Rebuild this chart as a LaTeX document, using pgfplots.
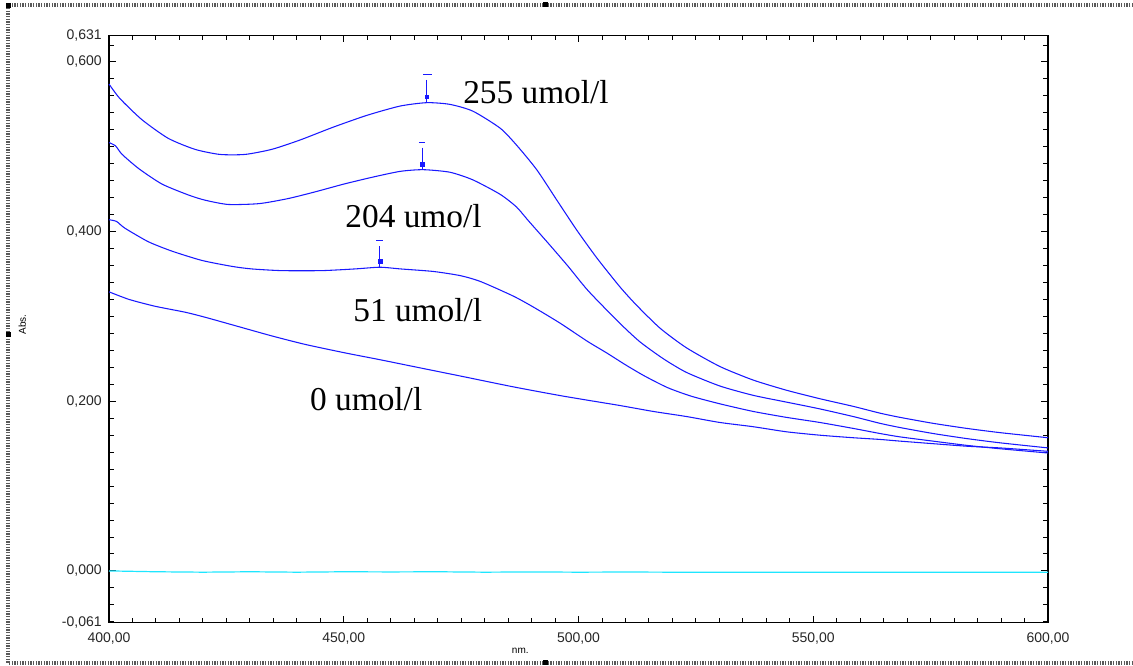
\documentclass[border=0pt]{standalone}
\usepackage{fontspec}
\setmainfont{Liberation Serif}
\setsansfont{Liberation Sans}
\usepackage{pgfplots}
\pgfplotsset{compat=1.18}
\definecolor{specblue}{RGB}{25,25,255}
\definecolor{basecyan}{RGB}{30,230,255}

\pgfplotstableread{
nm a255 
400.0 0.574
402.3 0.557
407.0 0.532
412.6 0.510
418.3 0.497
423.6 0.491
429.0 0.491
434.7 0.497
440.7 0.508
447.7 0.523
454.9 0.537
462.0 0.548
467.7 0.552
472.6 0.550
477.5 0.542
483.3 0.522
486.8 0.502
491.1 0.473
495.4 0.437
499.6 0.402
503.9 0.369
508.8 0.335
512.4 0.313
517.4 0.286
523.0 0.263
530.1 0.241
537.2 0.225
544.3 0.213
551.4 0.203
558.5 0.194
564.2 0.186
568.5 0.181
575.5 0.174
582.7 0.168
589.8 0.163
600.0 0.157
}\curveA

\pgfplotstableread{
nm a204
400.0 0.505
401.4 0.501
402.8 0.491
406.4 0.474
411.3 0.456
417.0 0.443
420.5 0.437
425.4 0.432
432.0 0.433
438.2 0.439
444.0 0.447
450.0 0.456
456.0 0.464
462.0 0.471
466.9 0.473
472.6 0.470
477.5 0.461
483.3 0.444
486.8 0.429
489.3 0.413
493.6 0.386
497.8 0.359
502.1 0.330
508.8 0.292
513.1 0.270
518.1 0.250
523.0 0.234
530.1 0.218
537.2 0.207
544.3 0.199
551.4 0.191
558.5 0.182
564.2 0.174
568.5 0.169
575.5 0.162
582.7 0.156
589.8 0.151
600.0 0.145
}\curveB

\pgfplotstableread{
nm a51
400.0 0.414
401.6 0.412
403.4 0.404
408.4 0.388
413.4 0.377
419.8 0.366
426.2 0.359
430.4 0.356
436.8 0.354
445.3 0.354
452.4 0.356
457.7 0.358
462.1 0.356
469.1 0.353
474.9 0.348
479.2 0.341
486.1 0.324
490.4 0.311
496.1 0.292
501.8 0.271
506.0 0.257
510.0 0.243
514.0 0.230
519.0 0.216
524.0 0.206
530.1 0.197
537.2 0.188
544.3 0.181
551.4 0.175
558.5 0.168
564.2 0.162
568.5 0.158
575.5 0.153
582.7 0.148
589.8 0.144
600.0 0.139
}\curveC

\pgfplotstableread{
nm a0
400.0 0.329
404.3 0.320
409.8 0.312
416.2 0.305
420.5 0.299
427.6 0.288
434.7 0.277
441.8 0.267
450.3 0.257
457.7 0.249
464.8 0.241
475.5 0.229
486.1 0.217
496.8 0.206
508.8 0.195
515.9 0.188
523.0 0.182
530.1 0.175
537.2 0.170
544.3 0.164
551.4 0.160
558.5 0.157
564.2 0.155
568.5 0.153
575.5 0.150
582.7 0.147
589.8 0.145
600.0 0.141
}\curveD

\begin{document}
\begin{tikzpicture}
\useasboundingbox (0,0) rectangle (849.75pt,499.5pt);
\begin{scope}[x=0.75pt,y=0.75pt]
  % hatched frame
  \draw[black!65, line width=2.6pt, dash pattern=on 1.1pt off 0.9pt]
    (1133,661)--(8,661)--(8,3)--(1133,3);
  \fill[black] (6,658) rectangle (11,663);
  \fill[black] (543,659) rectangle (548,664);
  \fill[black] (6,329) rectangle (11,334);
  \fill[black] (543,1) rectangle (548,6);
\end{scope}

\begin{axis}[
  at={(81.75pt,32.5pt)}, anchor=south west,
  scale only axis, width=704.25pt, height=440.25pt,
  xmin=400, xmax=600, ymin=-0.061, ymax=0.631,
  xtick={400,450,...,600}, minor x tick num=9,
  ytick={0,0.2,0.4,0.6},
  minor ytick={-0.06,-0.04,...,0.621},
  extra y ticks={-0.061,0.631},
  extra y tick style={major tick length=0pt},
  tick align=inside, major tick length=5pt, minor tick length=3.5pt,
  axis line style={line width=0.9pt},
  every tick/.style={black, line width=0.7pt},
  tick label style={font=\sffamily\fontsize{10.5}{12}\selectfont, text=black!85},
  /pgf/number format/assume math mode=true,
  xticklabel style={yshift=-4pt, /pgf/number format/.cd, fixed, fixed zerofill, precision=2, use comma, 1000 sep={}},
  yticklabel style={xshift=-2pt, /pgf/number format/.cd, fixed, fixed zerofill, precision=3, use comma},
  xlabel={nm.}, ylabel={Abs.},
  every axis x label/.style={at={(rel axis cs:0.438,0)}, yshift=-21pt, anchor=center, font=\sffamily\fontsize{7.5}{8}\selectfont},
  every axis y label/.style={at={(rel axis cs:0,0.508)}, xshift=-65pt, rotate=90, anchor=center, font=\sffamily\fontsize{7.5}{8}\selectfont},
  clip=false,
]
  \addplot[basecyan, line width=0.9pt] coordinates {
    (400,0.000) (410,-0.001) (420,-0.0015) (430,-0.001) (440,-0.0015)
    (450,-0.001) (460,-0.0012) (470,-0.001) (480,-0.0015) (490,-0.0012)
    (500,-0.0015) (510,-0.0013) (520,-0.0015) (530,-0.0015) (540,-0.0015)
    (550,-0.0015) (560,-0.0015) (570,-0.0015) (580,-0.0015) (590,-0.0015) (600,-0.0015)};

  \addplot[specblue, line width=0.8pt, smooth, tension=0.4] table[x=nm, y=a255] {\curveA};
  \addplot[specblue, line width=0.8pt, smooth, tension=0.4] table[x=nm, y=a204] {\curveB};
  \addplot[specblue, line width=0.8pt, smooth, tension=0.4] table[x=nm, y=a51] {\curveC};
  \addplot[specblue, line width=0.8pt, smooth, tension=0.4] table[x=nm, y=a0] {\curveD};

  % peak markers
  \addplot[specblue, line width=0.8pt] coordinates {(466.9,0.585) (468.8,0.585)};
  \addplot[specblue, line width=0.8pt] coordinates {(467.7,0.579) (467.7,0.552)};
  \addplot[specblue, only marks, mark=square*, mark size=1.4pt] coordinates {(467.7,0.559)};

  \addplot[specblue, line width=0.8pt] coordinates {(466.0,0.505) (467.4,0.505)};
  \addplot[specblue, line width=0.8pt] coordinates {(466.8,0.499) (466.8,0.473)};
  \addplot[specblue, only marks, mark=square*, mark size=1.4pt] coordinates {(466.8,0.479)};

  \addplot[specblue, line width=0.8pt] coordinates {(456.9,0.390) (458.4,0.390)};
  \addplot[specblue, line width=0.8pt] coordinates {(457.7,0.383) (457.7,0.358)};
  \addplot[specblue, only marks, mark=square*, mark size=1.4pt] coordinates {(457.7,0.365)};

  \node[anchor=west, inner sep=0pt, font=\fontsize{25}{30}\selectfont] at (axis cs:475.4,0.565) {255 umol/l};
  \node[anchor=west, inner sep=0pt, font=\fontsize{25}{30}\selectfont] at (axis cs:450.3,0.418) {204 umo/l};
  \node[anchor=west, inner sep=0pt, font=\fontsize{25}{30}\selectfont] at (axis cs:452.0,0.308) {51 umol/l};
  \node[anchor=west, inner sep=0pt, font=\fontsize{25}{30}\selectfont] at (axis cs:442.8,0.202) {0 umol/l};
\end{axis}
\end{tikzpicture}
\end{document}
